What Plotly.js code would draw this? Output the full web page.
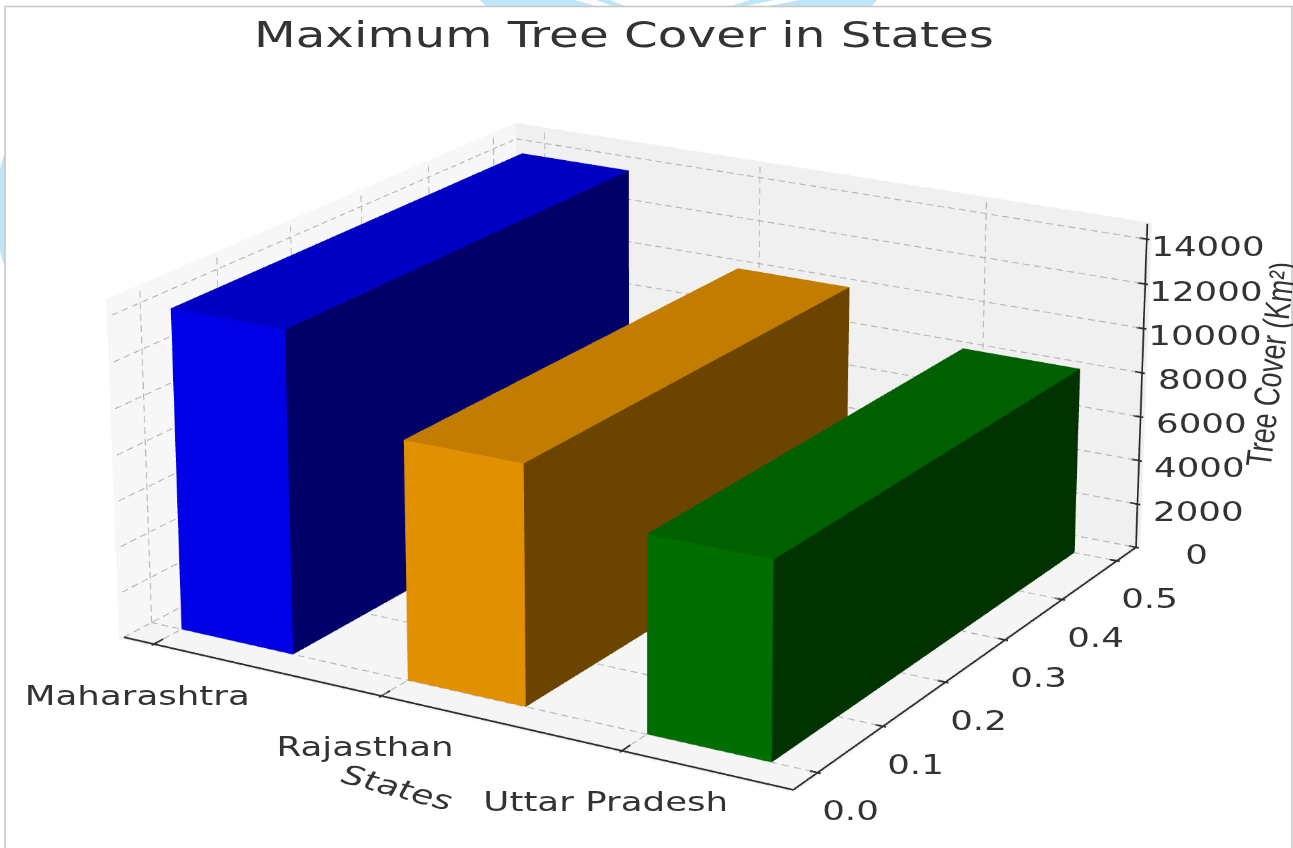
<!DOCTYPE html>
<html><head><meta charset="utf-8">
<script src="https://cdn.plot.ly/plotly-3.0.1.min.js"></script>
<style>html,body{margin:0;padding:0;background:#fff;overflow:hidden}
#w{position:relative;width:1293px;height:848px;overflow:hidden}
#c{position:absolute;left:-1293px;top:-1568px;width:3879px;height:3984px}
.gtitle{transform-box:fill-box;transform-origin:center;transform:scaleX(1.345)}
.annotation-scene:not([data-index="0"]) .annotation-text{transform-box:fill-box;transform-origin:center;transform:scaleX(1.32)}
.annotation-scene[data-index="0"] .annotation-text{transform-box:fill-box;transform-origin:center;transform:scaleX(0.74)}
</style>
</head><body><div id="w"><div id="c"></div></div>
<script>
const states = ["Maharashtra","Rajasthan","Uttar Pradesh"];
const treeCover = [14000, 10300, 8400];
const xTicks = [0,1,2];
const zTicks = [0,2000,4000,6000,8000,10000,12000,14000];
const yTicks = [0,0.1,0.2,0.3,0.4,0.5];
const topColors = ["#0000c4","#c27c00","#006000"];
const frontColors = ["#0000e6","#e09000","#006e00"];
const sideColors = ["#000068","#6b4500","#003300"];
const barDepth = 0.5, barWidth = 0.5;
const xRange=[-0.136,2.68], yRange=[-0.036,0.536], zRange=[0,14700];

const bars = states.map((s,i)=>{
  const x0=i,x1=i+barWidth,y0=0,y1=barDepth,z0=0,z1=treeCover[i];
  const x=[x0,x1,x1,x0,x0,x1,x1,x0], y=[y0,y0,y1,y1,y0,y0,y1,y1], z=[z0,z0,z0,z0,z1,z1,z1,z1];
  const I=[0,0, 4,4, 1,1, 0,0, 3,3, 0,0];
  const J=[1,5, 5,6, 2,6, 3,7, 2,6, 1,2];
  const K=[5,4, 6,7, 6,5, 7,4, 6,7, 2,3];
  const f=frontColors[i],t=topColors[i],d=sideColors[i];
  return {type:"mesh3d",x,y,z,i:I,j:J,k:K,facecolor:[f,f,t,t,d,d,f,f,d,d,d,d],flatshading:true,name:s,showscale:false,
    lighting:{ambient:1,diffuse:0,specular:0,roughness:1,fresnel:0},hoverinfo:"name+z"};
});
function segs(list){const x=[],y=[],z=[];list.forEach(([a,b])=>{x.push(a[0],b[0],null);y.push(a[1],b[1],null);z.push(a[2],b[2],null);});return {x,y,z};}
function dashed(a,b,n){const out=[];for(let k=0;k<n;k++){const s=k/n,e=(k+0.6)/n;
  out.push([a.map((v,j)=>v+(b[j]-v)*s),a.map((v,j)=>v+(b[j]-v)*e)]);}return out;}
const [xa,xb]=xRange,[ya,yb]=yRange,[za,zb]=zRange;
const gridSegs=[];
xTicks.forEach(v=>{gridSegs.push(...dashed([v,ya,za],[v,yb,za],45),...dashed([v,yb,za],[v,yb,zb],30));});
yTicks.forEach(v=>{gridSegs.push(...dashed([xa,v,za],[xb,v,za],60),...dashed([xa,v,za],[xa,v,zb],30));});
zTicks.forEach(v=>{gridSegs.push(...dashed([xa,ya,v],[xa,yb,v],45),...dashed([xa,yb,v],[xb,yb,v],60));});
const grid=Object.assign({type:"scatter3d",mode:"lines",hoverinfo:"skip",showlegend:false,line:{color:"#b2b2b2",width:1.5}},segs(gridSegs));
const axSegs=[[[xa,ya,za],[xb,ya,za]],[[xb,ya,za],[xb,yb,za]],[[xb,yb,za],[xb,yb,zb]]];
xTicks.forEach(v=>axSegs.push([[v,ya-0.003,za],[v,ya+0.012,za]]));
yTicks.forEach(v=>axSegs.push([[xb-0.03,v,za],[xb+0.012,v,za]]));
zTicks.forEach(v=>axSegs.push([[xb-0.03,yb,v],[xb+0.012,yb,v]]));
const axes=Object.assign({type:"scatter3d",mode:"lines",hoverinfo:"skip",showlegend:false,line:{color:"#2a2a2a",width:2.5}},segs(axSegs));

const labelFont={family:"DejaVu Sans",size:27,color:"#333"};
const annotations=[
 {x:xb,y:yb,z:6600,text:"Tree Cover (Km²)",showarrow:false,textangle:-83,xshift:130,yshift:40,font:{family:"Liberation Sans",size:36,color:"#333"}},
 {x:1,y:ya,z:0,text:"<i>States</i>",showarrow:false,textangle:15,xshift:16,yshift:-92,font:labelFont},
 ...states.map((s,i)=>({x:xTicks[i],y:ya,z:0,text:s,showarrow:false,xshift:-16,yshift:-51,font:labelFont})),
 ...yTicks.map(v=>({x:xb,y:v,z:0,text:v.toFixed(1),showarrow:false,xshift:33,yshift:-38,font:labelFont})),
 ...zTicks.map(v=>({x:xb,y:yb,z:v,text:String(v),showarrow:false,xshift:61,yshift:-7,font:labelFont}))
];
const W=3879,H=3984,offX=1293,offY=1568;
const fx=x=>(x+offX)/W, fy=y=>1-(y+offY)/H;
const px=(x,y)=>fx(x).toFixed(6)+","+fy(y).toFixed(6);
const blue="#bfe6f8";
function poly(points){return {type:"path",xref:"paper",yref:"paper",layer:"below",fillcolor:blue,line:{width:0},
  path:"M"+points.map(p=>px(p[0],p[1])).join(" L")+" Z"};}
const shapes=[
 poly([[0,168],[3,158],[5,153],[5,267],[3,262],[0,252]]),
 poly([[486,6],[596,6],[575,0],[480,0]]),
 poly([[612,6],[625,6],[610,0],[596,0]]),
 poly([[731,6],[745,6],[775,0],[750,0]]),
 poly([[768,6],[872,6],[877,0],[800,0]]),
 {type:"path",xref:"paper",yref:"paper",layer:"below",line:{color:"#c6c6c6",width:1.5},
  path:"M"+px(5,848)+" L"+px(5,6.5)+" L"+px(1292,6.5)+" L"+px(1292,848)}
];
const axisBase={showgrid:false,showline:false,ticks:"",showticklabels:false,zeroline:false,showspikes:false,showbackground:true,title:{text:""}};
const layout={width:W,height:H,margin:{l:0,r:0,t:0,b:0},paper_bgcolor:"#fff",showlegend:false,shapes,
  title:{text:"Maximum Tree Cover in States",x:fx(624),xanchor:"center",y:fy(34),yanchor:"middle",font:{family:"DejaVu Sans",size:36,color:"#333"}},
  scene:{domain:{x:[0,1],y:[0,1]},aspectmode:"manual",aspectratio:{x:0.395,y:0.388,z:0.1825},annotations,
    camera:{eye:{x:1.2,y:-2.04,z:0.81},center:{x:0.0018,y:0.0011,z:0.0022},up:{x:0,y:0,z:1}},
    xaxis:Object.assign({},axisBase,{backgroundcolor:"#f7f7f7",range:[xa-0.012,xb+0.012]}),
    yaxis:Object.assign({},axisBase,{backgroundcolor:"#f0f0f0",range:[ya-0.003,yb+0.003]}),
    zaxis:Object.assign({},axisBase,{backgroundcolor:"#f5f5f5",range:[za-40,zb]})
  }};
Plotly.newPlot("c",[...bars,grid,axes],layout,{displayModeBar:false});
</script></body></html>
